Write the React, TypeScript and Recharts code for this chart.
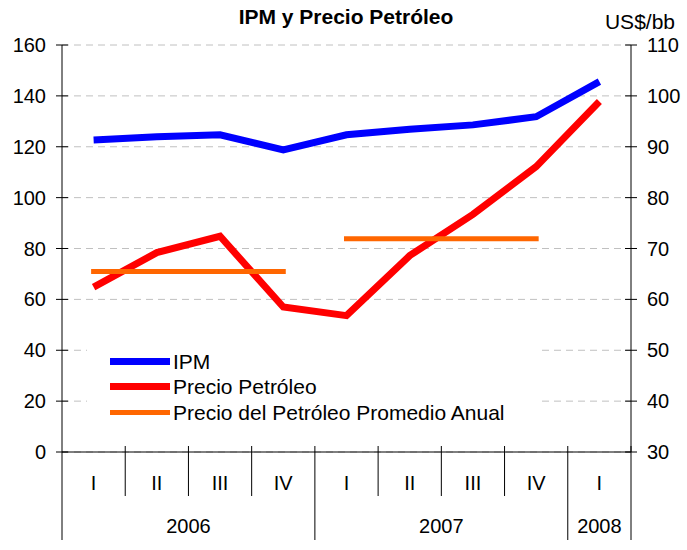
import {
  CartesianGrid,
  ComposedChart,
  Legend,
  Line,
  XAxis,
  YAxis,
} from "recharts";

const quarters = ["I", "II", "III", "IV", "I", "II", "III", "IV", "I"];
const years = ["2006", "2006", "2006", "2006", "2007", "2007", "2007", "2007", "2008"];
const ipm = [122.7, 123.9, 124.7, 118.8, 124.7, 126.9, 128.6, 131.8, 145.6];
const petroleo = [62.4, 69.2, 72.4, 58.5, 56.8, 68.6, 76.7, 86.1, 98.9];
const promedio2006 = [65.5, 65.5, 65.5, 65.5, null, null, null, null, null];
const promedio2007 = [null, null, null, null, 71.9, 71.9, 71.9, 71.9, null];
const leftTicks = [0, 20, 40, 60, 80, 100, 120, 140, 160];
const rightTicks = [30, 40, 50, 60, 70, 80, 90, 100, 110];

const legendItems = [
  { name: "IPM", color: "#0000ff", width: 7 },
  { name: "Precio Petróleo", color: "#ff0000", width: 7 },
  { name: "Precio del Petróleo Promedio Anual", color: "#ff6600", width: 5 },
];

const data = quarters.map((q, i) => ({
  q,
  year: years[i],
  ipm: ipm[i],
  petroleo: petroleo[i],
  prom2006: promedio2006[i],
  prom2007: promedio2007[i],
}));

const FONT = "'Liberation Sans', Arial, sans-serif";
const W = 687;
const H = 550;
const LEFT_W = 62;
const RIGHT_W = 56;
const BAND = (W - LEFT_W - RIGHT_W) / quarters.length;

function QuarterTick(props: any) {
  const { x, y, payload } = props;
  const i = payload.index as number;
  const yr = years[i];
  const isFirst = i === 0 || years[i - 1] !== yr;
  const isLastOfYear = i === years.length - 1 || years[i + 1] !== yr;
  let last = i;
  while (last + 1 < years.length && years[last + 1] === yr) last++;
  const rightX = x + BAND / 2;
  return (
    <g>
      <text x={x} y={y + 31} textAnchor="middle" dominantBaseline="central" fontSize={20} fontFamily={FONT} fill="#000">
        {payload.value}
      </text>
      {i === 0 && <line x1={x - BAND / 2} x2={x - BAND / 2} y1={y} y2={y + 88} stroke="#000" />}
      <line x1={rightX} x2={rightX} y1={y - 6} y2={isLastOfYear ? y + 88 : y + 44} stroke="#000" />
      {isFirst && (
        <text
          x={x + ((last - i) * BAND) / 2}
          y={y + 74}
          textAnchor="middle"
          dominantBaseline="central"
          fontSize={20}
          fontFamily={FONT}
          fill="#000"
        >
          {yr}
        </text>
      )}
    </g>
  );
}

function LeftTick(props: any) {
  const { x, y, payload } = props;
  return (
    <g>
      <line x1={x - 6} x2={x + 6} y1={y} y2={y} stroke="#000" />
      <text x={x - 16} y={y} textAnchor="end" dominantBaseline="central" fontSize={20} fontFamily={FONT} fill="#000">
        {payload.value}
      </text>
    </g>
  );
}

function RightTick(props: any) {
  const { x, y, payload } = props;
  return (
    <g>
      <line x1={x - 6} x2={x + 6} y1={y} y2={y} stroke="#000" />
      <text x={x + 16} y={y} textAnchor="start" dominantBaseline="central" fontSize={20} fontFamily={FONT} fill="#000">
        {payload.value}
      </text>
    </g>
  );
}

function ChartLegend() {
  return (
    <div style={{ background: "#fff", width: 450, height: 85, paddingTop: 9, boxSizing: "border-box", fontFamily: FONT }}>
      {legendItems.map((it) => (
        <div key={it.name} style={{ display: "flex", alignItems: "center", height: 25.3, marginLeft: 23 }}>
          <div style={{ width: 60, height: it.width, background: it.color, marginRight: 3 }} />
          <span style={{ fontSize: 21, color: "#000", lineHeight: "25px" }}>{it.name}</span>
        </div>
      ))}
    </div>
  );
}

export default function App() {
  return (
    <div style={{ position: "absolute", left: 0, top: 0, width: W, height: H, background: "#fff" }}>
      <div
        style={{
          position: "absolute",
          left: 0,
          width: 692,
          top: 5,
          textAlign: "center",
          fontFamily: FONT,
          fontWeight: "bold",
          fontSize: 21,
        }}
      >
        IPM y Precio Petróleo
      </div>
      <div style={{ position: "absolute", right: 12, top: 10, fontFamily: FONT, fontSize: 21 }}>US$/bb</div>
      <ComposedChart width={W} height={H} data={data} margin={{ top: 45, right: 0, bottom: 0, left: 0 }}>
        <CartesianGrid vertical={false} yAxisId="left" stroke="#c0c0c0" strokeDasharray="7 5" />
        <XAxis
          dataKey="q"
          padding={{ left: BAND / 2, right: BAND / 2 }}
          height={98}
          interval={0}
          tickLine={false}
          tickSize={0}
          tickMargin={0}
          axisLine={{ stroke: "#000" }}
          tick={<QuarterTick />}
        />
        <YAxis
          yAxisId="left"
          width={LEFT_W}
          domain={[0, 160]}
          ticks={leftTicks}
          tickLine={false}
          tickSize={0}
          tickMargin={0}
          axisLine={{ stroke: "#000" }}
          tick={<LeftTick />}
        />
        <YAxis
          yAxisId="right"
          orientation="right"
          width={RIGHT_W}
          domain={[30, 110]}
          ticks={rightTicks}
          tickLine={false}
          tickSize={0}
          tickMargin={0}
          axisLine={{ stroke: "#000" }}
          tick={<RightTick />}
        />
        <Legend
          layout="vertical"
          align="center"
          verticalAlign="middle"
          wrapperStyle={{ left: 87, top: 340, width: 450 }}
          content={<ChartLegend />}
        />
        <Line yAxisId="left" type="linear" dataKey="ipm" name="IPM" stroke="#0000ff" strokeWidth={7} dot={false} isAnimationActive={false} />
        <Line yAxisId="right" type="linear" dataKey="petroleo" name="Precio Petróleo" stroke="#ff0000" strokeWidth={7} dot={false} isAnimationActive={false} />
        <Line yAxisId="right" type="linear" dataKey="prom2006" name="Precio del Petróleo Promedio Anual" stroke="#ff6600" strokeWidth={5} strokeLinecap="square" dot={false} isAnimationActive={false} />
        <Line yAxisId="right" type="linear" dataKey="prom2007" name="prom2007" legendType="none" stroke="#ff6600" strokeWidth={5} strokeLinecap="square" dot={false} isAnimationActive={false} />
      </ComposedChart>
    </div>
  );
}
